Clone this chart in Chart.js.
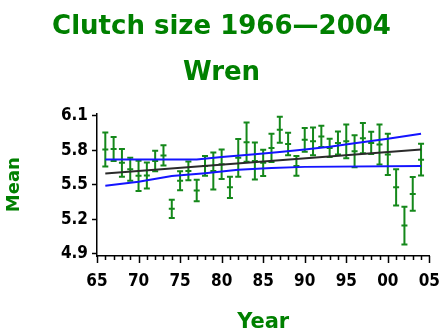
<!DOCTYPE html>
<html>
<head>
<meta charset="utf-8">
<script src="https://cdn.jsdelivr.net/npm/chart.js@4.4.1/dist/chart.umd.min.js"></script>
<style>
  html, body { margin: 0; padding: 0; background: #fff; }
  #wrap { width: 443px; height: 333px; }
</style>
</head>
<body>
<div id="wrap"><canvas id="chart" width="443" height="333"></canvas></div>
<script>
// clutch size per year (mean and half error bar)
const years = [1966, 1967, 1968, 1969, 1970, 1971, 1972, 1973, 1974, 1975,
  1976, 1977, 1978, 1979, 1980, 1981, 1982, 1983, 1984, 1985,
  1986, 1987, 1988, 1989, 1990, 1991, 1992, 1993, 1994, 1995,
  1996, 1997, 1998, 1999, 2000, 2001, 2002, 2003, 2004];
const means = [5.806, 5.81, 5.69, 5.635, 5.577, 5.58, 5.706, 5.755, 5.29, 5.535,
  5.62, 5.45, 5.663, 5.62, 5.678, 5.477, 5.734, 5.87, 5.706, 5.69,
  5.82, 5.977, 5.854, 5.663, 5.89, 5.877, 5.92, 5.82, 5.863, 5.877,
  5.79, 5.905, 5.863, 5.85, 5.763, 5.477, 5.145, 5.42, 5.718];
const errors = [0.147, 0.104, 0.121, 0.1, 0.131, 0.113, 0.09, 0.089, 0.08, 0.083,
  0.081, 0.093, 0.086, 0.161, 0.129, 0.093, 0.164, 0.171, 0.161, 0.114,
  0.123, 0.113, 0.097, 0.086, 0.103, 0.121, 0.093, 0.079, 0.1, 0.146,
  0.139, 0.131, 0.097, 0.174, 0.179, 0.157, 0.164, 0.146, 0.139];

// regression line and its band
const trendYears = [1966, 2004];
const trendValues = [5.597, 5.806];
const upperYears = [1966, 1977, 1980, 1984, 1987, 1990, 1993, 1996, 2000, 2004];
const upperValues = [5.72, 5.72, 5.74, 5.765, 5.785, 5.806, 5.83, 5.86, 5.9, 5.943];
const lowerYears = [1966, 1970, 1974, 1978, 1982, 1986, 1990, 2004];
const lowerValues = [5.49, 5.525, 5.575, 5.6, 5.63, 5.645, 5.655, 5.663];

const yTicks = [4.9, 5.2, 5.5, 5.8, 6.1];
const xTicks = [1965, 1970, 1975, 1980, 1985, 1990, 1995, 2000, 2005];

const green = '#008000';
const barGreen = '#14881a';
const blue = '#1414ff';
const tickFont = { family: '"Liberation Sans Narrow", "DejaVu Sans Condensed", sans-serif', size: 17, weight: 'bold' };
const titleFamily = '"DejaVu Sans", sans-serif';

const toPoints = (xs, ys) => xs.map((v, i) => ({ x: v, y: ys[i] }));

const errorBars = {
  id: 'errorBars',
  beforeDatasetsDraw(chart) {
    const { ctx, scales: { x, y } } = chart;
    ctx.save();
    ctx.strokeStyle = barGreen;
    ctx.lineWidth = 2;
    years.forEach((yr, i) => {
      const px = x.getPixelForValue(yr);
      const top = y.getPixelForValue(means[i] + errors[i]);
      const bot = y.getPixelForValue(means[i] - errors[i]);
      ctx.beginPath();
      ctx.moveTo(px, top); ctx.lineTo(px, bot);
      ctx.moveTo(px - 3, top); ctx.lineTo(px + 3, top);
      ctx.moveTo(px - 3, bot); ctx.lineTo(px + 3, bot);
      ctx.stroke();
    });
    ctx.restore();
  }
};

// yearly minor ticks and longer 5-year ticks under the x axis
const yearTicks = {
  id: 'yearTicks',
  afterDraw(chart) {
    const { ctx, scales: { x } } = chart;
    ctx.save();
    ctx.strokeStyle = '#000';
    ctx.lineWidth = 1.5;
    for (let yr = x.min; yr <= x.max; yr++) {
      const px = Math.round(x.getPixelForValue(yr)) + 0.5;
      const len = yr % 5 === 0 ? 7 : 4;
      ctx.beginPath();
      ctx.moveTo(px, x.top);
      ctx.lineTo(px, x.top + len);
      ctx.stroke();
    }
    ctx.restore();
  }
};

new Chart(document.getElementById('chart'), {
  type: 'scatter',
  data: {
    datasets: [
      {
        type: 'line',
        data: toPoints(trendYears, trendValues),
        borderColor: '#2a2a2a',
        borderWidth: 2,
        pointRadius: 0
      },
      {
        type: 'line',
        data: toPoints(upperYears, upperValues),
        borderColor: blue,
        borderWidth: 2,
        pointRadius: 0
      },
      {
        type: 'line',
        data: toPoints(lowerYears, lowerValues),
        borderColor: blue,
        borderWidth: 2,
        pointRadius: 0
      },
      {
        data: toPoints(years, means),
        pointStyle: 'line',
        pointRadius: 3,
        borderColor: barGreen,
        borderWidth: 2
      }
    ]
  },
  options: {
    responsive: false,
    animation: false,
    devicePixelRatio: 1,
    layout: { padding: { left: 0, right: 0, top: 0, bottom: 0 } },
    plugins: {
      legend: { display: false },
      tooltip: { enabled: false },
      title: {
        display: true,
        text: 'Clutch size 1966\u20142004',
        color: green,
        font: { family: titleFamily, size: 26, weight: 'bold' },
        padding: { top: 12, bottom: 14 }
      },
      subtitle: {
        display: true,
        text: 'Wren',
        color: green,
        font: { family: titleFamily, size: 26, weight: 'bold' },
        padding: { top: 0, bottom: 25 }
      }
    },
    scales: {
      x: {
        type: 'linear',
        min: 1965,
        max: 2005,
        afterBuildTicks: scale => { scale.ticks = xTicks.map(v => ({ value: v })); },
        afterFit: scale => { scale.height = 77; },
        grid: { display: true, drawOnChartArea: false, drawTicks: true, tickLength: 12, tickColor: 'rgba(0,0,0,0)' },
        border: { color: '#000', width: 1.5 },
        ticks: {
          color: '#000',
          font: tickFont,
          padding: 3,
          maxRotation: 0,
          callback: v => String(v % 100).padStart(2, '0')
        },
        title: {
          display: true,
          text: 'Year',
          color: green,
          font: { family: titleFamily, size: 21, weight: 'bold', lineHeight: 1 },
          padding: { top: 0, bottom: 0 }
        }
      },
      y: {
        min: 4.88,
        max: 6.12,
        afterBuildTicks: scale => { scale.ticks = yTicks.map(v => ({ value: v })); },
        afterFit: scale => { scale.width = 97; },
        grid: { drawOnChartArea: false, drawTicks: true, tickLength: 5, color: '#000', tickWidth: 1.5 },
        border: { color: '#000', width: 1.5 },
        ticks: {
          color: '#000',
          font: tickFont,
          padding: 4,
          callback: v => v.toFixed(1)
        },
        title: {
          display: true,
          text: 'Mean',
          color: green,
          font: { family: titleFamily, size: 18, weight: 'bold' },
          padding: { top: 4, bottom: 0 }
        }
      }
    }
  },
  plugins: [errorBars, yearTicks]
});
</script>
</body>
</html>
